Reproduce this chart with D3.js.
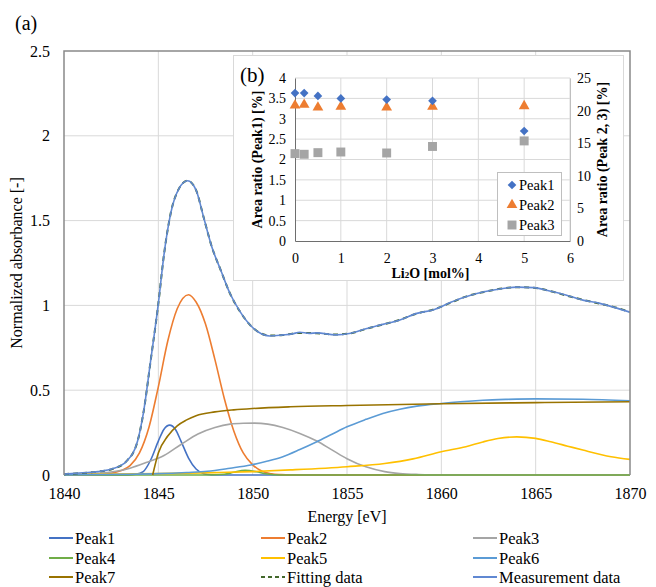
<!DOCTYPE html>
<html>
<head>
<meta charset="utf-8">
<script src="https://cdn.jsdelivr.net/npm/d3@7/dist/d3.min.js"></script>
<style>
  body { margin: 0; background: #fff; }
  svg text { font-family: "Liberation Serif", "Times New Roman", serif; }
</style>
</head>
<body>
<svg id="chart" width="656" height="587"></svg>
<script>
// ---- main chart data (a) ----
var energyTicks = [1840, 1845, 1850, 1855, 1860, 1865, 1870];
var absTicks = [0, 0.5, 1, 1.5, 2, 2.5];

var measE = [1840, 1841, 1841.8, 1842.6, 1843.3, 1843.9, 1844.2, 1844.6, 1845, 1845.3, 1845.65, 1846.1, 1846.55, 1847, 1847.4, 1847.85, 1848.3, 1848.8, 1849.35, 1849.9, 1850.3, 1850.9, 1851.6, 1852.1, 1852.5, 1853, 1853.4, 1854.4, 1855.2, 1856, 1856.9, 1857.8, 1858.7, 1859.6, 1860.5, 1861.3, 1862.2, 1863.1, 1864, 1864.9, 1865.8, 1866.6, 1867.5, 1868.4, 1869.3, 1870];
var measured = [0.005, 0.013, 0.02, 0.038, 0.08, 0.2, 0.36, 0.68, 1.01, 1.30, 1.54, 1.69, 1.735, 1.68, 1.52, 1.34, 1.21, 1.07, 0.96, 0.88, 0.843, 0.82, 0.826, 0.832, 0.842, 0.835, 0.838, 0.826, 0.836, 0.862, 0.888, 0.914, 0.953, 0.975, 1.018, 1.051, 1.079, 1.097, 1.108, 1.105, 1.083, 1.061, 1.031, 1.012, 0.984, 0.96];
var fitted = [0.005, 0.012, 0.02, 0.037, 0.08, 0.2, 0.36, 0.68, 1.01, 1.30, 1.54, 1.69, 1.735, 1.68, 1.52, 1.34, 1.21, 1.07, 0.96, 0.88, 0.843, 0.822, 0.825, 0.833, 0.838, 0.837, 0.836, 0.828, 0.836, 0.861, 0.887, 0.915, 0.952, 0.976, 1.016, 1.052, 1.078, 1.098, 1.107, 1.104, 1.084, 1.059, 1.033, 1.01, 0.986, 0.96];

var p1E = [1840, 1843.4, 1843.8, 1844.2, 1844.6, 1845, 1845.3, 1845.6, 1845.9, 1846.2, 1846.6, 1847, 1847.4, 1847.8, 1848.5, 1870];
var p1V = [0, 0, 0.004, 0.02, 0.09, 0.2, 0.27, 0.294, 0.27, 0.2, 0.1, 0.035, 0.008, 0.001, 0, 0];

var p2E = [1840, 1841, 1842, 1842.5, 1843, 1843.5, 1844, 1844.5, 1845, 1845.5, 1846, 1846.6, 1847, 1847.5, 1848, 1848.5, 1849, 1849.5, 1850, 1850.5, 1851, 1851.5, 1852, 1870];
var p2V = [0, 0.001, 0.003, 0.01, 0.025, 0.055, 0.13, 0.28, 0.52, 0.79, 0.98, 1.063, 1.02, 0.89, 0.68, 0.45, 0.26, 0.13, 0.06, 0.022, 0.007, 0.002, 0, 0];

var p3E = [1840, 1841.8, 1843.5, 1844.4, 1845.3, 1846.2, 1847.1, 1848, 1848.8, 1849.5, 1850.1, 1850.8, 1851.6, 1852.5, 1853.4, 1854.2, 1855, 1856, 1857, 1857.8, 1858.8, 1860, 1870];
var p3V = [0.002, 0.01, 0.04, 0.075, 0.115, 0.18, 0.242, 0.28, 0.3, 0.305, 0.306, 0.3, 0.28, 0.245, 0.2, 0.148, 0.096, 0.048, 0.02, 0.009, 0.003, 0, 0];

var p4E = [1840, 1847.5, 1848.5, 1849, 1849.6, 1850.2, 1850.7, 1851.5, 1870];
var p4V = [0, 0, 0.004, 0.016, 0.027, 0.019, 0.007, 0, 0];

var p5E = [1840, 1845, 1848, 1850, 1852, 1855, 1857, 1858.5, 1860, 1861.3, 1862.2, 1863, 1864, 1865, 1865.8, 1866.7, 1867.5, 1869, 1870];
var p5V = [0.003, 0.008, 0.014, 0.02, 0.03, 0.049, 0.068, 0.095, 0.137, 0.167, 0.195, 0.215, 0.225, 0.216, 0.196, 0.17, 0.147, 0.108, 0.092];

var p6E = [1840, 1843, 1845, 1846.5, 1847.6, 1848.8, 1849.9, 1850.8, 1851.6, 1852.5, 1853.4, 1854.2, 1855, 1856, 1856.9, 1857.8, 1858.7, 1860, 1861, 1862.2, 1863.5, 1865, 1867.5, 1870];
var p6V = [0.001, 0.004, 0.008, 0.015, 0.022, 0.04, 0.059, 0.082, 0.108, 0.15, 0.196, 0.24, 0.284, 0.328, 0.363, 0.388, 0.406, 0.422, 0.432, 0.441, 0.446, 0.449, 0.447, 0.437];

var p7E = [1844.7, 1845, 1845.5, 1846, 1846.5, 1847, 1848, 1849, 1850, 1852, 1855, 1860, 1865, 1870];
var p7V = [0, 0.13, 0.23, 0.29, 0.325, 0.35, 0.372, 0.384, 0.392, 0.402, 0.41, 0.42, 0.427, 0.432];

var seriesNames = ["Peak1", "Peak2", "Peak3", "Peak4", "Peak5", "Peak6", "Peak7", "Fitting data", "Measurement data"];
var seriesColors = ["#4472C4", "#ED7D31", "#A5A5A5", "#70AD47", "#FFC000", "#5B9BD5", "#997300", "#43682b", "#6088d2"];

// ---- inset data (b) ----
var li2o = [0, 0.2, 0.5, 1, 2, 3, 5];
var peak1Ratio = [3.63, 3.63, 3.56, 3.50, 3.47, 3.44, 2.70];
var peak2Ratio = [20.8, 20.9, 20.5, 20.6, 20.5, 20.6, 20.7];
var peak3Ratio = [13.4, 13.3, 13.55, 13.65, 13.5, 14.5, 15.35];
var insetXTicks = [0, 1, 2, 3, 4, 5, 6];
var insetLTicks = [0, 0.5, 1, 1.5, 2, 2.5, 3, 3.5, 4];
var insetRTicks = [0, 5, 10, 15, 20, 25];

var serif = "'Liberation Serif', 'Times New Roman', serif";
var svg = d3.select("#chart").attr("font-family", serif);

// ---- main plot ----
var m = { left: 64, right: 630, top: 51, bottom: 475 };
var x = d3.scaleLinear().domain([1840, 1870]).range([m.left, m.right]);
var y = d3.scaleLinear().domain([0, 2.5]).range([m.bottom, m.top]);

var grid = svg.append("g");
grid.selectAll(".vg").data(energyTicks.slice(1, -1)).enter().append("line")
    .attr("x1", function(d) { return x(d); }).attr("x2", function(d) { return x(d); })
    .attr("y1", m.top).attr("y2", m.bottom)
    .attr("stroke", "#d9d9d9").attr("stroke-width", 1);
grid.selectAll(".hg").data(absTicks.slice(1, -1)).enter().append("line")
    .attr("x1", m.left).attr("x2", m.right)
    .attr("y1", function(d) { return y(d); }).attr("y2", function(d) { return y(d); })
    .attr("stroke", "#d9d9d9").attr("stroke-width", 1);

var xAxis = svg.append("g").attr("transform", "translate(0," + m.bottom + ")")
    .call(d3.axisBottom(x).tickValues(energyTicks).tickSize(0).tickPadding(13).tickFormat(d3.format("d")));
var yAxis = svg.append("g").attr("transform", "translate(" + m.left + ",0)")
    .call(d3.axisLeft(y).tickValues(absTicks).tickSize(0).tickPadding(14).tickFormat(function(d) { return String(d); }));
[xAxis, yAxis].forEach(function(a) {
    a.attr("font-family", serif);
    a.select(".domain").remove();
    a.selectAll("text").attr("font-size", "16px").attr("fill", "#000");
});

var line = d3.line().x(function(d) { return x(d[0]); }).y(function(d) { return y(d[1]); })
    .curve(d3.curveMonotoneX);
function pairs(e, v) { return e.map(function(d, i) { return [d, v[i]]; }); }

var curves = [
    pairs(p1E, p1V), pairs(p2E, p2V), pairs(p3E, p3V), pairs(p4E, p4V),
    pairs(p5E, p5V), pairs(p6E, p6V), pairs(p7E, p7V),
    pairs(measE, fitted), pairs(measE, measured)
];

svg.append("clipPath").attr("id", "plotclip").append("rect")
    .attr("x", m.left).attr("y", m.top).attr("width", m.right - m.left).attr("height", m.bottom - m.top + 1);

var plot = svg.append("g").attr("clip-path", "url(#plotclip)");
curves.forEach(function(c, i) {
    plot.append("path").datum(c)
        .attr("d", line)
        .attr("fill", "none")
        .attr("stroke", seriesColors[i])
        .attr("stroke-width", i == 7 ? 2 : 1.6)
        .attr("stroke-dasharray", i == 7 ? "5,4" : null);
});

// plot frame
svg.append("path")
    .attr("d", "M" + m.left + "," + m.bottom + "V" + m.top + "H" + m.right + "V" + m.bottom)
    .attr("fill", "none").attr("stroke", "#898989").attr("stroke-width", 1.5);

svg.append("text").attr("x", 15).attr("y", 30).attr("font-size", "20px").text("(a)");
svg.append("text").attr("transform", "translate(22," + ((m.top + m.bottom) / 2) + ") rotate(-90)")
    .attr("text-anchor", "middle").attr("font-size", "16px").text("Normalized absorbance [-]");
svg.append("text").attr("x", (m.left + m.right) / 2).attr("y", 522)
    .attr("text-anchor", "middle").attr("font-size", "16px").text("Energy [eV]");

// bottom legend
var legCols = [49, 261, 473];
var legRows = [538, 558, 577];
seriesNames.forEach(function(name, i) {
    var lx = legCols[i % 3], ly = legRows[Math.floor(i / 3)];
    svg.append("line").attr("x1", lx).attr("x2", lx + 24).attr("y1", ly).attr("y2", ly)
        .attr("stroke", seriesColors[i]).attr("stroke-width", 2)
        .attr("stroke-dasharray", i == 7 ? "4,3" : null);
    svg.append("text").attr("x", lx + 26).attr("y", ly + 6).attr("font-size", "16.5px").text(name);
});

// ---- inset (b) ----
svg.append("rect").attr("x", 233.5).attr("y", 55.5).attr("width", 390).attr("height", 225)
    .attr("fill", "#fff").attr("stroke", "#d9d9d9");

var im = { left: 295, right: 570, top: 78, bottom: 241 };
var ix = d3.scaleLinear().domain([0, 6]).range([im.left, im.right]);
var iyL = d3.scaleLinear().domain([0, 4]).range([im.bottom, im.top]);
var iyR = d3.scaleLinear().domain([0, 25]).range([im.bottom, im.top]);

var ig = svg.append("g");
ig.selectAll(".ivg").data(insetXTicks.slice(1)).enter().append("line")
    .attr("x1", function(d) { return ix(d); }).attr("x2", function(d) { return ix(d); })
    .attr("y1", im.top).attr("y2", im.bottom).attr("stroke", "#d9d9d9");
ig.selectAll(".ihg").data(insetLTicks.slice(1)).enter().append("line")
    .attr("x1", im.left).attr("x2", im.right)
    .attr("y1", function(d) { return iyL(d); }).attr("y2", function(d) { return iyL(d); })
    .attr("stroke", "#d9d9d9");

var ixAxis = ig.append("g").attr("transform", "translate(0," + im.bottom + ")")
    .call(d3.axisBottom(ix).tickValues(insetXTicks).tickSize(0).tickPadding(12).tickFormat(d3.format("d")));
var iyLAxis = ig.append("g").attr("transform", "translate(" + im.left + ",0)")
    .call(d3.axisLeft(iyL).tickValues(insetLTicks).tickSize(0).tickPadding(9).tickFormat(function(d) { return String(d); }));
var iyRAxis = ig.append("g").attr("transform", "translate(" + im.right + ",0)")
    .call(d3.axisRight(iyR).tickValues(insetRTicks).tickSize(0).tickPadding(7).tickFormat(d3.format("d")));
[ixAxis, iyLAxis, iyRAxis].forEach(function(a) {
    a.attr("font-family", serif);
    a.selectAll("text").attr("font-size", "14px").attr("fill", "#000");
});
ixAxis.select(".domain").attr("stroke", "#6e6e6e");
iyLAxis.select(".domain").attr("stroke", "#6e6e6e");
iyRAxis.select(".domain").attr("stroke", "#bfbfbf");

var diamond = d3.symbol().type(d3.symbolDiamond2).size(48);
var tri = d3.symbol().type(d3.symbolTriangle).size(50);
var sq = d3.symbol().type(d3.symbolSquare).size(80);

ig.selectAll(".p3").data(li2o).enter().append("path")
    .attr("d", sq).attr("fill", "#A5A5A5")
    .attr("transform", function(d, i) { return "translate(" + ix(d) + "," + iyR(peak3Ratio[i]) + ")"; });
ig.selectAll(".p2").data(li2o).enter().append("path")
    .attr("d", tri).attr("fill", "#ED7D31")
    .attr("transform", function(d, i) { return "translate(" + ix(d) + "," + iyR(peak2Ratio[i]) + ")"; });
ig.selectAll(".p1").data(li2o).enter().append("path")
    .attr("d", diamond).attr("fill", "#4472C4")
    .attr("transform", function(d, i) { return "translate(" + ix(d) + "," + iyL(peak1Ratio[i]) + ")"; });

svg.append("text").attr("x", 240).attr("y", 82).attr("font-size", "21px").text("(b)");

var lt = svg.append("text").attr("x", (im.left + im.right) / 2 - 2).attr("y", 278)
    .attr("text-anchor", "middle").attr("font-size", "14px").attr("font-weight", "bold");
lt.append("tspan").text("Li");
lt.append("tspan").attr("font-size", "9px").text("2");
lt.append("tspan").text("O [mol%]");
svg.append("text").attr("transform", "translate(262," + ((im.top + im.bottom) / 2) + ") rotate(-90)")
    .attr("text-anchor", "middle").attr("font-size", "14px").attr("font-weight", "bold")
    .text("Area ratio (Peak1) [%]");
svg.append("text").attr("transform", "translate(607," + ((im.top + im.bottom) / 2) + ") rotate(-90)")
    .attr("text-anchor", "middle").attr("font-size", "14px").attr("font-weight", "bold")
    .text("Area ratio (Peak 2, 3) [%]");

// inset legend
svg.append("rect").attr("x", 497.5).attr("y", 172.5).attr("width", 64).attr("height", 63)
    .attr("fill", "#fff").attr("stroke", "#bfbfbf");
var insetLeg = [["Peak1", diamond, "#4472C4"], ["Peak2", tri, "#ED7D31"], ["Peak3", sq, "#A5A5A5"]];
insetLeg.forEach(function(it, i) {
    var ly = 185 + i * 20;
    svg.append("path").attr("d", it[1]).attr("fill", it[2]).attr("transform", "translate(512," + ly + ")");
    svg.append("text").attr("x", 519).attr("y", ly + 5).attr("font-size", "14.5px").text(it[0]);
});
</script>
</body>
</html>
